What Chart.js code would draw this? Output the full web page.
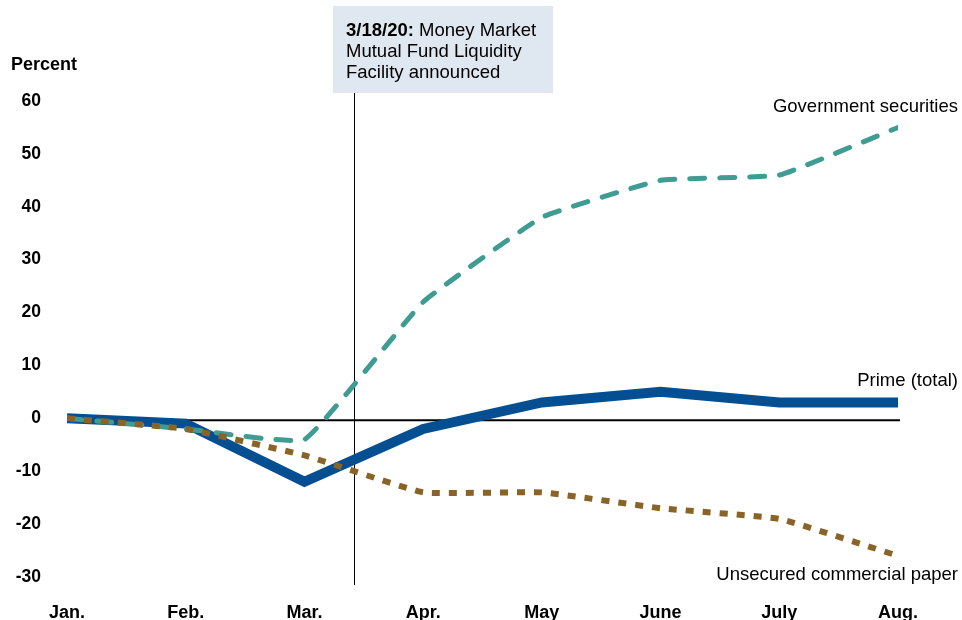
<!DOCTYPE html>
<html>
<head>
<meta charset="utf-8">
<script src="https://cdn.jsdelivr.net/npm/chart.js@4.4.0/dist/chart.umd.min.js"></script>
<style>
  html, body { margin: 0; padding: 0; background: #fff; }
  #wrap { width: 962px; height: 620px; position: relative; }
</style>
</head>
<body>
<div id="wrap"><canvas id="mmfChart" width="962" height="620"></canvas></div>
<script>
// month positions 0..7
const months = ['Jan.', 'Feb.', 'Mar.', 'Apr.', 'May', 'June', 'July', 'Aug.'];
const yTicks = [60, 50, 40, 30, 20, 10, 0, -10, -20, -30];

const primeTotal = [0, -1, -12, -2, 3, 5, 3, 3];
const govSecurities = [0, -2, -4, 22, 38, 45, 46, 55];
const unsecuredCP = [0, -2, -7, -14, -14, -17, -19, -26];

// 3/18/20 announcement, as a position on the month axis
const announceX = 2.42;

const toPoints = vals => vals.map((v, i) => ({ x: i, y: v }));

const annotations = {
    id: 'annotations',
    beforeDatasetsDraw(chart) {
        const { ctx, scales: { x, y } } = chart;
        ctx.save();

        // zero line
        const y0 = y.getPixelForValue(0) + 2;
        ctx.strokeStyle = '#000';
        ctx.lineWidth = 2;
        ctx.beginPath();
        ctx.moveTo(x.getPixelForValue(0), y0);
        ctx.lineTo(x.getPixelForValue(7) + 2, y0);
        ctx.stroke();

        // announcement box and line
        const lx = Math.round(x.getPixelForValue(announceX)) + 0.5;
        ctx.lineWidth = 1;
        ctx.beginPath();
        ctx.moveTo(lx, 93);
        ctx.lineTo(lx, 585);
        ctx.stroke();

        ctx.fillStyle = '#dfe7f0';
        ctx.fillRect(333, 6, 220, 87);

        ctx.fillStyle = '#000';
        ctx.textBaseline = 'middle';
        ctx.textAlign = 'left';
        ctx.font = 'bold 18.5px "Liberation Sans", Arial, sans-serif';
        ctx.fillText('3/18/20:', 346, 31);
        const bw = ctx.measureText('3/18/20: ').width;
        ctx.font = '18.5px "Liberation Sans", Arial, sans-serif';
        ctx.fillText('Money Market', 346 + bw, 31);
        ctx.fillText('Mutual Fund Liquidity', 346, 52);
        ctx.fillText('Facility announced', 346, 73);

        // axis title
        ctx.font = 'bold 18px "Liberation Sans", Arial, sans-serif';
        ctx.fillText('Percent', 11, 65);

        // series labels
        ctx.textAlign = 'right';
        ctx.font = '18.5px "Liberation Sans", Arial, sans-serif';
        ctx.fillText('Government securities', 958, 107);
        ctx.fillText('Prime (total)', 958, 381);
        ctx.fillText('Unsecured commercial paper', 958, 575);

        ctx.restore();
    }
};

new Chart(document.getElementById('mmfChart'), {
    type: 'line',
    data: {
        datasets: [
            {
                label: 'Unsecured commercial paper',
                data: toPoints(unsecuredCP),
                borderColor: '#8a6426',
                borderWidth: 6,
                borderDash: [8, 9],
                tension: 0.1,
                pointRadius: 0
            },
            {
                label: 'Government securities',
                data: toPoints(govSecurities),
                borderColor: '#3f9c92',
                borderWidth: 5,
                borderDash: [15, 15],
                borderCapStyle: 'round',
                tension: 0.1,
                pointRadius: 0
            },
            {
                label: 'Prime (total)',
                data: toPoints(primeTotal),
                borderColor: '#034f91',
                borderWidth: 10,
                tension: 0,
                pointRadius: 0
            }
        ]
    },
    options: {
        responsive: false,
        animation: false,
        layout: { padding: { left: 0, right: 64, top: 101, bottom: 0 } },
        plugins: {
            legend: { display: false },
            tooltip: { enabled: false }
        },
        scales: {
            x: {
                type: 'linear',
                min: 0,
                max: 7,
                grid: { display: false, drawTicks: false },
                border: { display: false },
                afterFit: scale => { scale.height = 43; },
                afterBuildTicks: scale => {
                    scale.ticks = months.map((m, i) => ({ value: i }));
                },
                ticks: {
                    padding: 25,
                    color: '#000',
                    maxRotation: 0,
                    autoSkip: false,
                    font: { family: '"Liberation Sans", Arial, sans-serif', size: 18, weight: 'bold' },
                    callback: v => months[v]
                }
            },
            y: {
                min: -30,
                max: 60,
                grid: { display: false, drawTicks: false },
                border: { display: false },
                afterFit: scale => { scale.width = 67; },
                afterBuildTicks: scale => {
                    scale.ticks = yTicks.map(v => ({ value: v }));
                },
                ticks: {
                    padding: 26,
                    color: '#000',
                    font: { family: '"Liberation Sans", Arial, sans-serif', size: 17.5, weight: 'bold' }
                }
            }
        }
    },
    plugins: [annotations]
});
</script>
</body>
</html>
